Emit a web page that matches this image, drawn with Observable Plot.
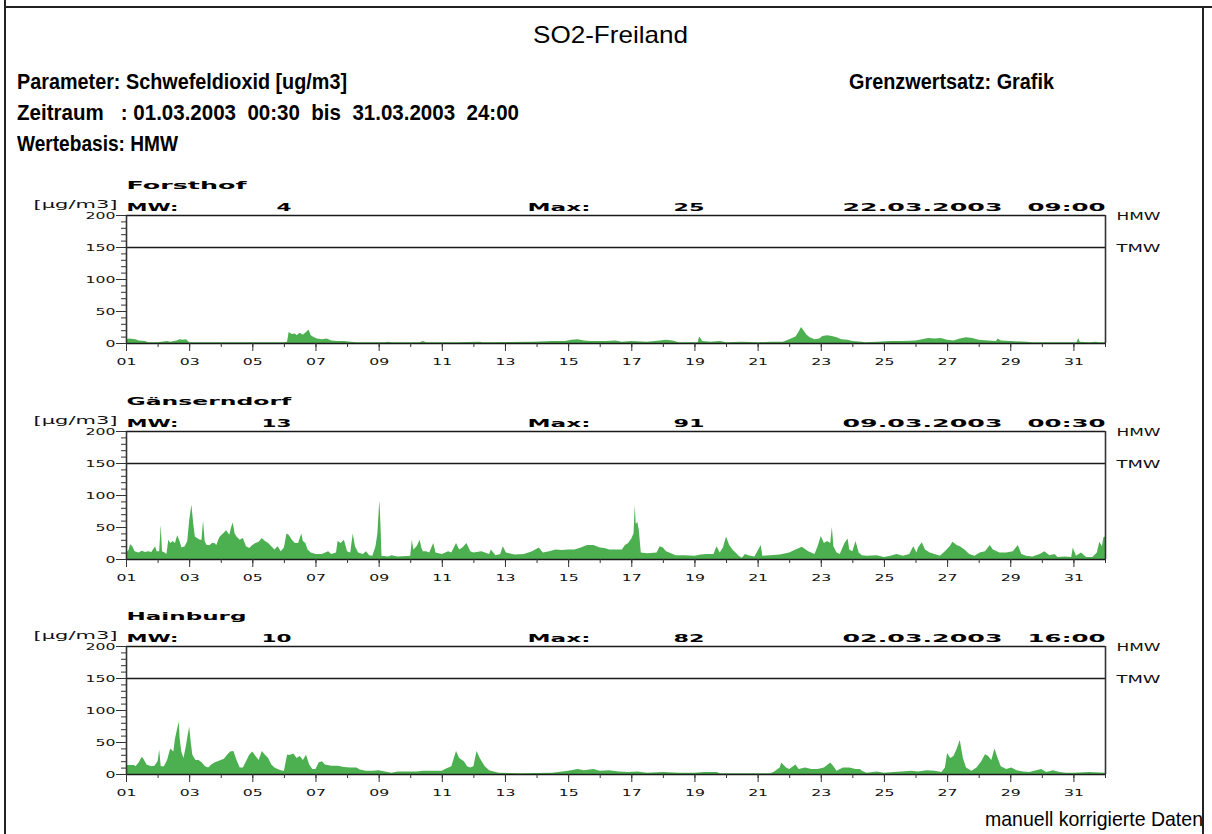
<!DOCTYPE html>
<html><head><meta charset="utf-8">
<script src="https://cdn.jsdelivr.net/npm/d3@7"></script>
<script src="https://cdn.jsdelivr.net/npm/@observablehq/plot@0.6"></script>
<style>
body{margin:0;background:#fff;}
#page{position:relative;width:1212px;height:834px;overflow:hidden;font-family:"Liberation Sans",Arial,sans-serif;background:#fff;}
.hdr{position:absolute;white-space:pre;color:#000;transform-origin:0 0;line-height:1;}
.bl{position:absolute;background:#222;}
</style></head><body><div id="page"></div>
<script>
// ---------------- data ----------------
const stations = ["Forsthof", "Gänserndorf", "Hainburg"];
const meanValues = [4, 13, 10];
const maxValues = [25, 91, 82];
const maxDates = ["22.03.2003", "09.03.2003", "02.03.2003"];
const maxTimes = ["09:00", "00:30", "16:00"];
const limits = [{name: "HMW", value: 200}, {name: "TMW", value: 150}];
const yMajorTicks = [0, 50, 100, 150, 200];
const yMinorTicks = d3.range(0, 201, 10);
const dayTicks = d3.range(1, 33);
const dayLabelTicks = d3.range(1, 32, 2);

// [day of March (fractional), µg/m3]
const forsthof = [[1.0,6],[1.1,7],[1.3,6],[1.4,4],[1.6,3],[1.7,1],[2.0,1],[2.3,3],[2.4,2],[2.6,4],[2.7,6],[2.8,5],[2.9,6],[3.0,1],[4.0,1],[5.0,1],[6.0,1],[6.1,2],[6.15,17],[6.25,14],[6.35,15],[6.4,12],[6.5,16],[6.6,13],[6.7,17],[6.78,21],[6.85,12],[6.95,9],[7.05,7],[7.2,6],[7.35,7],[7.5,4],[7.7,3],[7.9,3],[8.1,2],[8.3,1],[8.6,1],[9.2,1],[9.3,2],[9.4,1],[10.3,1],[10.4,3],[10.5,1],[11.5,1],[12.2,2],[12.3,1],[13.9,2],[14.5,3],[14.9,3],[15.1,5],[15.3,6],[15.5,4],[15.7,3],[16.2,3],[16.5,4],[16.7,2],[17.0,3],[17.5,2],[17.9,4],[18.1,5],[18.3,4],[18.5,1],[19.1,1],[19.15,10],[19.25,3],[19.5,2],[19.8,3],[20.0,1],[20.5,2],[21.0,1],[21.4,2],[21.8,2],[22.0,6],[22.2,10],[22.3,18],[22.375,25],[22.45,20],[22.55,13],[22.65,9],[22.8,6],[22.95,7],[23.05,11],[23.2,12],[23.35,11],[23.5,9],[23.65,6],[23.85,5],[24.0,3],[24.3,2],[24.4,1],[24.8,2],[25.2,3],[25.6,3],[26.0,4],[26.2,6],[26.4,8],[26.6,7],[26.8,8],[27.0,5],[27.2,4],[27.4,7],[27.6,9],[27.8,8],[28.0,5],[28.3,4],[28.55,3],[28.6,7],[28.7,4],[29.0,3],[29.5,2],[29.7,1],[31.1,1],[31.15,8],[31.2,2],[31.5,1],[31.7,2],[31.8,1],[32.0,1]];

const gaenserndorf = [[1.0,10],[1.08,14],[1.13,23],[1.2,20],[1.27,12],[1.4,10],[1.5,13],[1.6,11],[1.7,12],[1.8,11],[1.92,20],[1.97,12],[2.05,12],[2.1,53],[2.14,12],[2.22,10],[2.28,8],[2.34,30],[2.4,25],[2.48,28],[2.55,25],[2.62,37],[2.68,30],[2.76,18],[2.86,20],[2.94,28],[3.0,60],[3.07,85],[3.13,55],[3.18,35],[3.25,33],[3.34,30],[3.39,30],[3.44,60],[3.49,28],[3.55,22],[3.65,22],[3.72,25],[3.8,25],[3.86,22],[3.92,30],[3.97,35],[4.07,40],[4.17,45],[4.27,38],[4.33,50],[4.38,57],[4.44,40],[4.5,35],[4.6,30],[4.7,33],[4.8,20],[4.9,17],[5.0,22],[5.1,25],[5.2,27],[5.3,33],[5.4,28],[5.5,25],[5.6,20],[5.7,15],[5.8,20],[5.9,12],[6.0,18],[6.08,40],[6.15,38],[6.25,30],[6.35,25],[6.45,25],[6.55,40],[6.6,28],[6.68,25],[6.75,15],[6.85,10],[7.0,8],[7.2,8],[7.4,12],[7.5,8],[7.65,10],[7.7,28],[7.8,25],[7.9,30],[8.0,12],[8.1,10],[8.18,40],[8.25,20],[8.35,10],[8.5,8],[8.6,12],[8.7,6],[8.8,5],[8.9,20],[8.96,40],[9.02,91],[9.04,75],[9.06,50],[9.09,5],[9.3,4],[9.4,6],[9.6,4],[10.0,5],[10.05,30],[10.1,15],[10.2,20],[10.3,30],[10.35,18],[10.4,12],[10.5,12],[10.6,10],[10.73,25],[10.8,10],[11.0,8],[11.2,12],[11.3,10],[11.45,25],[11.55,15],[11.65,18],[11.78,25],[11.9,12],[12.0,10],[12.25,12],[12.5,8],[12.55,15],[12.7,6],[12.85,8],[12.93,20],[13.03,10],[13.3,7],[13.6,8],[13.86,12],[14.07,18],[14.2,10],[14.4,12],[14.6,15],[14.8,14],[15.0,15],[15.2,15],[15.4,18],[15.6,22],[15.8,22],[16.0,18],[16.15,17],[16.3,15],[16.5,15],[16.7,15],[16.8,22],[16.9,25],[17.0,32],[17.07,40],[17.11,84],[17.14,55],[17.19,58],[17.24,45],[17.3,10],[17.5,9],[17.8,10],[17.9,20],[18.0,18],[18.1,12],[18.2,10],[18.4,6],[18.7,6],[19.0,5],[19.2,7],[19.4,8],[19.6,8],[19.7,20],[19.8,10],[19.9,18],[20.0,35],[20.1,22],[20.2,15],[20.3,10],[20.4,5],[20.5,2],[20.6,8],[20.7,6],[20.9,4],[21.1,22],[21.15,5],[21.4,6],[21.7,7],[22.0,10],[22.2,15],[22.4,19],[22.6,12],[22.8,8],[22.9,20],[23.0,36],[23.1,25],[23.2,28],[23.3,25],[23.35,50],[23.4,20],[23.5,10],[23.6,8],[23.75,25],[23.85,32],[23.9,15],[24.0,12],[24.1,28],[24.2,10],[24.3,6],[24.45,5],[24.77,6],[25.0,3],[25.2,5],[25.4,8],[25.6,5],[25.8,8],[25.93,20],[26.03,10],[26.08,18],[26.2,26],[26.3,15],[26.45,10],[26.6,8],[26.77,5],[26.93,12],[27.08,20],[27.17,27],[27.3,22],[27.4,20],[27.55,15],[27.7,8],[27.87,5],[28.03,10],[28.2,12],[28.35,22],[28.45,15],[28.66,10],[28.87,10],[29.08,12],[29.24,22],[29.35,8],[29.5,5],[29.7,4],[29.93,8],[30.08,12],[30.24,6],[30.4,8],[30.5,3],[30.72,4],[30.93,3],[30.98,18],[31.08,5],[31.24,10],[31.4,3],[31.6,3],[31.74,10],[31.82,27],[31.9,20],[31.95,34],[32.0,35]];

const hainburg = [[1.0,14],[1.25,14],[1.3,12],[1.4,18],[1.5,27],[1.55,24],[1.65,15],[1.8,12],[1.9,13],[2.0,20],[2.05,38],[2.1,12],[2.2,12],[2.3,22],[2.4,40],[2.5,35],[2.55,55],[2.67,82],[2.7,55],[2.75,35],[2.82,25],[2.9,45],[2.95,60],[3.0,74],[3.05,50],[3.1,30],[3.2,22],[3.3,22],[3.4,18],[3.5,12],[3.6,10],[3.7,15],[3.8,18],[3.9,20],[4.0,22],[4.1,24],[4.2,30],[4.3,35],[4.4,36],[4.5,22],[4.6,10],[4.7,10],[4.8,20],[4.9,30],[5.0,35],[5.1,28],[5.2,22],[5.3,36],[5.4,30],[5.5,25],[5.6,15],[5.7,10],[5.8,8],[5.9,6],[6.0,5],[6.1,30],[6.2,30],[6.3,32],[6.4,25],[6.5,28],[6.6,22],[6.7,30],[6.8,15],[6.9,8],[7.0,8],[7.1,18],[7.2,20],[7.3,15],[7.5,13],[7.7,13],[7.9,11],[8.1,10],[8.3,10],[8.4,7],[8.6,5],[8.8,5],[9.0,6],[9.2,4],[9.4,2],[9.6,4],[10.2,4],[10.4,5],[11.0,5],[11.1,8],[11.3,12],[11.45,36],[11.55,25],[11.7,20],[11.8,12],[11.9,10],[12.0,12],[12.1,36],[12.2,25],[12.36,12],[12.5,6],[12.7,3],[12.8,2],[13.5,1],[14.5,2],[15.0,5],[15.3,8],[15.5,6],[15.8,8],[16.0,5],[16.3,6],[16.6,4],[16.9,3],[17.2,4],[17.5,2],[18.0,3],[18.5,2],[19.0,2],[19.3,3],[19.7,3],[19.8,1],[21.4,1],[21.5,3],[21.7,10],[21.75,18],[21.9,10],[22.0,8],[22.2,15],[22.3,8],[22.5,10],[22.7,8],[22.9,8],[23.1,10],[23.3,18],[23.4,12],[23.5,5],[23.7,10],[23.9,10],[24.1,8],[24.24,8],[24.3,5],[24.45,2],[24.77,4],[25.0,2],[25.3,3],[25.56,4],[25.87,5],[26.08,4],[26.35,6],[26.6,5],[26.82,3],[26.93,10],[27.0,33],[27.1,25],[27.2,28],[27.3,39],[27.4,53],[27.5,25],[27.6,10],[27.77,5],[27.93,10],[28.08,20],[28.2,31],[28.3,28],[28.4,22],[28.5,40],[28.6,25],[28.7,12],[28.87,8],[29.03,10],[29.2,6],[29.4,4],[29.6,3],[29.98,8],[30.14,3],[30.35,6],[30.56,3],[30.77,2],[31.0,2],[31.5,3],[32.0,2]];

const series = [forsthof, gaenserndorf, hainburg];

// ---------------- page ----------------
const page = document.getElementById("page");
const GREEN = "#4caf50";
const INK = "#1a1a1a";

function line(l, t, w, h) {
  const d = document.createElement("div");
  d.className = "bl";
  Object.assign(d.style, {left: l + "px", top: t + "px", width: w + "px", height: h + "px"});
  page.appendChild(d);
}
line(4, 0, 2, 834);
line(4, 6, 1208, 2);
line(1202, 6, 2, 828);

function hText(str, x, baseline, fs, width, anchor, weight) {
  const el = document.createElement("div");
  el.className = "hdr";
  el.textContent = str;
  el.style.fontSize = fs + "px";
  el.style.fontWeight = weight;
  page.appendChild(el);
  const w = el.getBoundingClientRect().width;
  const k = width / w;
  const left = anchor === "end" ? x - width : anchor === "middle" ? x - width / 2 : x;
  el.style.left = left + "px";
  el.style.top = (baseline - 0.85 * fs) + "px";
  el.style.transform = `scaleX(${k})`;
}
hText("SO2-Freiland", 610, 43, 24, 155, "middle", "normal");
hText("Parameter: Schwefeldioxid [ug/m3]", 17, 90, 22, 330, "start", "bold");
hText("Zeitraum   : 01.03.2003  00:30  bis  31.03.2003  24:00", 17, 121, 22, 502, "start", "bold");
hText("Wertebasis: HMW", 17, 152, 22, 161, "start", "bold");
hText("Grenzwertsatz: Grafik", 849, 90, 22, 205, "start", "bold");
hText("manuell korrigierte Daten", 1203, 826, 21, 218, "end", "normal");

// ---------------- panels ----------------
// the plotter font is very wide: scale each text horizontally about its anchor point
function stretch(svg, widthOf) {
  svg.querySelectorAll("text").forEach(t => {
    const g = t.closest("g[aria-label]");
    const lab = g ? g.getAttribute("aria-label") : "";
    const s = t.textContent;
    if (!s) return;
    let w = null;
    if (lab.endsWith("tick label")) w = s.length * 10;
    else if (lab === "text") w = widthOf(s);
    if (!w) return;
    const cur = t.getComputedTextLength();
    if (!cur) return;
    const k = w / cur;
    const x = parseFloat(t.getAttribute("x") || 0) || 0;
    if (x) t.removeAttribute("x");
    const tr = t.getAttribute("transform") || "";
    t.setAttribute("transform", `${tr} translate(${x},0) scale(${k},1)`);
  });
}

const panelTops = [175, 390.5, 605.5];
const wideFont = "DejaVu Sans, Verdana, sans-serif";

stations.forEach((name, i) => {
  const bold = {fontFamily: wideFont, fontWeight: "bold", fontSize: 10.5, lineAnchor: "bottom", fill: "#000"};
  const svg = Plot.plot({
    width: 1212, height: 200,
    marginLeft: 126, marginRight: 107, marginTop: 40, marginBottom: 32,
    style: {background: "transparent", overflow: "visible", fontFamily: wideFont, fontSize: "9.5px", color: "#111"},
    x: {type: "linear", domain: [1, 32]},
    y: {domain: [0, 200]},
    marks: [
      Plot.areaY(series[i], {x: d => d[0], y: d => d[1], fill: GREEN}),
      Plot.ruleY(limits, {y: "value", stroke: INK, strokeWidth: 1.3}),
      Plot.ruleY([0], {stroke: INK, strokeWidth: 1.5}),
      Plot.ruleX([1, 32], {stroke: "#333", strokeWidth: 1.6}),
      Plot.axisY(yMinorTicks, {tickSize: 5, tickFormat: () => "", label: null, stroke: "#333"}),
      Plot.axisY(yMajorTicks, {tickSize: 10, tickPadding: 1, label: null, stroke: "#333", fill: "#111"}),
      Plot.axisX(dayTicks, {tickSize: 4, tickFormat: () => "", label: null, stroke: "#333"}),
      Plot.axisX(dayLabelTicks, {tickSize: 8, tickPadding: 7, label: null, stroke: "#333", fill: "#111",
        tickFormat: d => String(d).padStart(2, "0")}),
      Plot.text(limits, {y: "value", text: "name", frameAnchor: "right", dx: 11, dy: 1.5, textAnchor: "start",
        fontFamily: wideFont, fontSize: 10, fill: "#111"}),
      Plot.text([name], {frameAnchor: "top-left", dy: -26.5, textAnchor: "start", ...bold}),
      Plot.text(["[µg/m3]"], {frameAnchor: "top-left", dx: -9, dy: -8, textAnchor: "end",
        fontFamily: wideFont, fontSize: 10, lineAnchor: "bottom", fill: "#111"}),
      Plot.text(["MW:"], {frameAnchor: "top-left", dy: -5, textAnchor: "start", ...bold}),
      Plot.text([meanValues[i]], {frameAnchor: "top-left", dx: 165, dy: -5, textAnchor: "end", ...bold}),
      Plot.text(["Max:"], {frameAnchor: "top-left", dx: 401, dy: -5, textAnchor: "start", ...bold}),
      Plot.text([maxValues[i]], {frameAnchor: "top-left", dx: 578, dy: -5, textAnchor: "end", ...bold}),
      Plot.text([maxDates[i]], {frameAnchor: "top-right", dx: -103, dy: -5, textAnchor: "end", ...bold}),
      Plot.text([maxTimes[i]], {frameAnchor: "top-right", dy: -5, textAnchor: "end", ...bold})
    ]
  });
  svg.style.position = "absolute";
  svg.style.top = panelTops[i] + "px";
  svg.style.left = "0px";
  page.appendChild(svg);
  const widths = new Map([
    [name, name.length * 15],
    ["[µg/m3]", 84],
    ["MW:", 52],
    [String(meanValues[i]), String(meanValues[i]).length * 15],
    ["Max:", 63],
    [String(maxValues[i]), String(maxValues[i]).length * 15.5],
    [maxDates[i], 160],
    [maxTimes[i], 78],
    ["HMW", 44],
    ["TMW", 44]
  ]);
  stretch(svg, s => widths.get(s));
});
</script>
</body></html>
